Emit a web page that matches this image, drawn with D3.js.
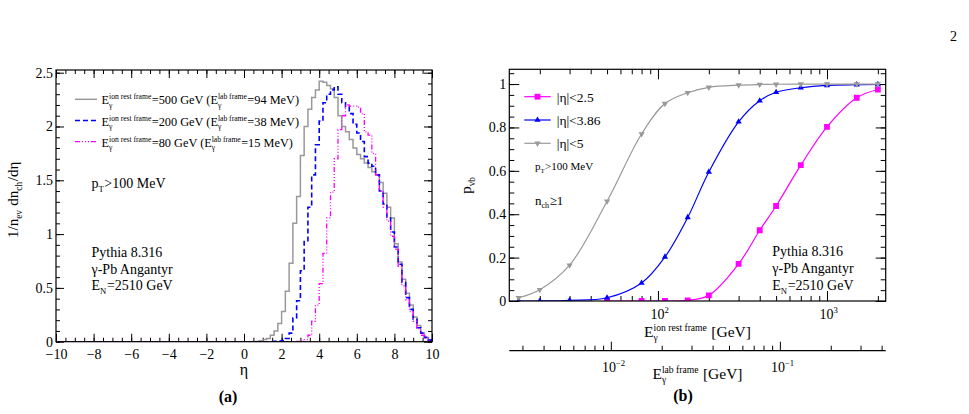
<!DOCTYPE html>
<html>
<head>
<meta charset="utf-8">
<script src="https://cdn.jsdelivr.net/npm/d3@7"></script>
<style>
body { margin: 0; background: #fff; }
svg text { font-family: "Liberation Serif", "Times New Roman", serif; fill: #000; white-space: pre; }
</style>
</head>
<body>
<div id="chart"></div>
<script>
// ---- panel (a): 1/nev dnch/deta, bins of 0.2 from eta = 0 to 10 (eta < 0 is empty)
var etaMin = -10, etaMax = 10, binStart = 0, binWidth = 0.2;
var hist500 = [0, 0, 0, 0.003, 0.008,
    0.02, 0.03, 0.06, 0.10, 0.17,
    0.28, 0.47, 0.73, 1.10, 1.35,
    1.73, 2.00, 2.16, 2.27, 2.34,
    2.42, 2.41, 2.38, 2.35, 2.27,
    2.10, 2.00, 1.95, 1.88, 1.80,
    1.74, 1.70, 1.66, 1.62, 1.58,
    1.55, 1.48, 1.38, 1.25, 1.15,
    0.91, 0.74, 0.58, 0.45, 0.34,
    0.23, 0.15, 0.08, 0.04, 0.015];
var hist200 = [0, 0, 0, 0, 0,
    0, 0, 0, 0.003, 0.006,
    0.01, 0.03, 0.08, 0.22, 0.38,
    0.66, 0.93, 1.25, 1.55, 1.83,
    2.05, 2.22, 2.30, 2.34, 2.37,
    2.30, 2.22, 2.18, 2.12, 2.02,
    1.94, 1.86, 1.72, 1.66, 1.63,
    1.55, 1.40, 1.28, 1.15, 1.02,
    0.88, 0.72, 0.55, 0.41, 0.30,
    0.21, 0.13, 0.08, 0.04, 0.015];
var hist80 = [0, 0, 0, 0, 0,
    0, 0, 0, 0, 0,
    0, 0, 0, 0, 0.002,
    0.005, 0.02, 0.06, 0.19, 0.34,
    0.54, 0.82, 1.15, 1.39, 1.70,
    1.97, 2.10, 2.20, 2.19, 2.19,
    2.18, 2.12, 1.95, 1.92, 1.75,
    1.55, 1.40, 1.25, 1.12, 0.98,
    0.86, 0.70, 0.52, 0.39, 0.28,
    0.19, 0.12, 0.06, 0.03, 0.01];
var restEnergies = ["500", "200", "80"];
var labEnergies = ["94", "38", "15"];
var etaTicks = [-10, -8, -6, -4, -2, 0, 2, 4, 6, 8, 10];
var dndetaTicks = [0, 0.5, 1, 1.5, 2, 2.5];

// ---- panel (b): veto probability vs photon energy
var energies = [15, 20, 30, 50, 80, 110, 150, 200, 300, 400, 500, 700, 1000, 1500, 2000];
var pEta5 = [0.015, 0.052, 0.165, 0.46, 0.77, 0.91, 0.96, 0.985, 0.995, 0.998, 0.999, 1, 1, 1, 1];
var pEta386 = [0, 0, 0.003, 0.015, 0.083, 0.203, 0.385, 0.595, 0.826, 0.923, 0.962, 0.983, 0.994, 0.997, 0.998];
var energiesEta25 = [50, 80, 110, 150, 200, 300, 400, 500, 700, 1000, 1500, 2000];
var pEta25 = [0, 0, 0, 0.003, 0.026, 0.171, 0.326, 0.438, 0.626, 0.803, 0.937, 0.975];
var etaCuts = ["|η|<2.5", "|η|<3.86", "|η|<5"];
var pvbTicks = [0, 0.2, 0.4, 0.6, 0.8, 1];
var labPerRest = 1.9e-4;   // E_lab / E_ion-rest

var svg = d3.select("#chart").append("svg")
    .attr("width", 969)
    .attr("height", 414);

var serif = "'Liberation Serif', 'Times New Roman', serif";

// text with stacked sub/superscripts, ROOT style
function richText(parent, x, y, segs, fs, anchor, rotate, weight) {
    var g = parent.append("g");
    var cx = 0;
    segs.forEach(function(s) {
        if (typeof s === "string") {
            var t = g.append("text").attr("x", cx).attr("font-size", fs).text(s);
            if (weight) t.attr("font-weight", weight);
            cx += t.node().getComputedTextLength();
        } else {
            var w = 0, sfs = fs * 0.62;
            if (s.sup != null) {
                var a = g.append("text").attr("x", cx).attr("y", -fs * 0.4).attr("font-size", sfs).text(s.sup);
                w = Math.max(w, a.node().getComputedTextLength());
            }
            if (s.sub != null) {
                var b = g.append("text").attr("x", cx).attr("y", fs * 0.27).attr("font-size", sfs).text(s.sub);
                w = Math.max(w, b.node().getComputedTextLength());
            }
            cx += w + fs * 0.04;
        }
    });
    var shift = anchor === "middle" ? -cx / 2 : anchor === "end" ? -cx : 0;
    g.attr("transform", "translate(" + x + "," + y + ")" + (rotate ? " rotate(" + rotate + ")" : "") + " translate(" + shift + ",0)");
    return g;
}

// page number
svg.append("text").attr("x", 950).attr("y", 41).attr("font-size", 14).text("2");

// ================= PANEL (a) =================
var A = { left: 56, top: 70, width: 376, height: 271.7 };
var gA = svg.append("g").attr("transform", `translate(${A.left}, ${A.top})`);

var xA = d3.scaleLinear().domain([etaMin, etaMax]).range([0, A.width]);
var yA = d3.scaleLinear().domain([0, 2.525]).range([A.height, 0]);

var etaMinor = d3.range(etaMin, etaMax + 0.01, 0.5);
var yMinorA = d3.range(0, 2.51, 0.1);

function styleAxis(sel) {
    sel.attr("font-family", null);
    sel.select(".domain").remove();
    sel.selectAll("line").attr("stroke", "#000").attr("stroke-width", 1);
    sel.selectAll("text").attr("font-size", 14).style("font-family", serif);
}

gA.append("g").attr("transform", `translate(0, ${A.height})`)
    .call(d3.axisBottom(xA).tickValues(etaMinor).tickSize(-4).tickFormat(""))
    .call(styleAxis);
gA.append("g").attr("transform", `translate(0, ${A.height})`)
    .call(d3.axisBottom(xA).tickValues(etaTicks).tickSize(-8).tickPadding(7).tickFormat(d3.format("d")))
    .call(styleAxis);
gA.append("g")
    .call(d3.axisTop(xA).tickValues(etaMinor).tickSize(-4).tickFormat(""))
    .call(styleAxis);
gA.append("g")
    .call(d3.axisTop(xA).tickValues(etaTicks).tickSize(-8).tickFormat(""))
    .call(styleAxis);
gA.append("g")
    .call(d3.axisLeft(yA).tickValues(yMinorA).tickSize(-4).tickFormat(""))
    .call(styleAxis);
gA.append("g")
    .call(d3.axisLeft(yA).tickValues(dndetaTicks).tickSize(-8).tickPadding(3).tickFormat(d => String(d)))
    .call(styleAxis);
gA.append("g").attr("transform", `translate(${A.width}, 0)`)
    .call(d3.axisRight(yA).tickValues(yMinorA).tickSize(-4).tickFormat(""))
    .call(styleAxis);
gA.append("g").attr("transform", `translate(${A.width}, 0)`)
    .call(d3.axisRight(yA).tickValues(dndetaTicks).tickSize(-8).tickFormat(""))
    .call(styleAxis);

gA.append("clipPath").attr("id", "clipA")
    .append("rect").attr("width", A.width).attr("height", A.height);

function histPoints(values) {
    var pts = [{ e: etaMin, v: 0 }];
    values.forEach(function(v, i) {
        pts.push({ e: binStart + i * binWidth, v: v });
    });
    pts.push({ e: binStart + values.length * binWidth, v: values[values.length - 1] });
    return pts;
}
var histLine = d3.line()
    .x(d => xA(d.e))
    .y(d => yA(d.v))
    .curve(d3.curveStepAfter);

var histStyles = [
    { data: hist500, color: "#999999", dash: null, width: 1.5 },
    { data: hist200, color: "#0000ff", dash: "5,3", width: 1.6 },
    { data: hist80, color: "#ff00ff", dash: "5,2,1,2,1,2,1,2", width: 1.3 }
];

var histGroup = gA.append("g").attr("clip-path", "url(#clipA)");
histStyles.forEach(function(h) {
    histGroup.append("path")
        .attr("d", histLine(histPoints(h.data)))
        .attr("fill", "none")
        .attr("stroke", h.color)
        .attr("stroke-width", h.width)
        .attr("stroke-dasharray", h.dash);
});

// frame
gA.append("rect").attr("width", A.width).attr("height", A.height)
    .attr("fill", "none").attr("stroke", "#000").attr("stroke-width", 1.2);

// legend (a)
histStyles.forEach(function(h, i) {
    var ly = 29.3 + i * 21.2;
    gA.append("line")
        .attr("x1", 19).attr("x2", 41).attr("y1", ly).attr("y2", ly)
        .attr("stroke", h.color).attr("stroke-width", h.width).attr("stroke-dasharray", h.dash);
    richText(gA, 45.5, ly + 5, ["E", { sup: "ion rest frame", sub: "γ" }, "=" + restEnergies[i] + " GeV (E",
        { sup: "lab frame", sub: "γ" }, "=" + labEnergies[i] + " MeV)"], 12.3);
});

richText(gA, 35.5, 118, ["p", { sub: "T" }, ">100 MeV"], 14);
richText(gA, 35.5, 187, ["Pythia 8.316"], 14);
richText(gA, 35.5, 203.5, ["γ-Pb Angantyr"], 14);
richText(gA, 35.5, 220, ["E", { sub: "N" }, "=2510 GeV"], 14);

// axis titles (a)
richText(svg, 244, 375, ["η"], 16, "middle");
richText(svg, 18, A.top + A.height / 2 - 6, ["1/n", { sub: "ev" }, " dn", { sub: "ch" }, "/dη"], 15, "middle", -90);
richText(svg, 228, 402, ["(a)"], 16, "middle", null, "bold");

// ================= PANEL (b) =================
var B = { left: 509.3, top: 69.3, width: 376.4, height: 231.7 };
var gB = svg.append("g").attr("transform", `translate(${B.left}, ${B.top})`);

var xB = d3.scaleLog().domain([13.2, 2225]).range([0, B.width]);
var yB = d3.scaleLinear().domain([0, 1.068]).range([B.height, 0]);
var xLab = d3.scaleLog().domain([13.2 * labPerRest, 2225 * labPerRest]).range([0, B.width]);

function logTicks(scale) {
    var dom = scale.domain(), major = [], minor = [];
    var lo = Math.floor(Math.log10(dom[0])), hi = Math.ceil(Math.log10(dom[1]));
    for (var p = lo; p <= hi; p++) {
        for (var m = 1; m < 10; m++) {
            var v = m * Math.pow(10, p);
            if (v < dom[0] * 0.999 || v > dom[1] * 1.001) continue;
            if (m === 1) major.push(v); else minor.push(v);
        }
    }
    return { major: major, minor: minor };
}
var tB = logTicks(xB);
var yMinorB = d3.range(0, 1.051, 0.05);

gB.append("g").attr("transform", `translate(0, ${B.height})`)
    .call(d3.axisBottom(xB).tickValues(tB.minor).tickSize(-5).tickFormat(""))
    .call(styleAxis);
gB.append("g").attr("transform", `translate(0, ${B.height})`)
    .call(d3.axisBottom(xB).tickValues(tB.major).tickSize(-10).tickFormat(""))
    .call(styleAxis);
gB.append("g")
    .call(d3.axisTop(xB).tickValues(tB.minor).tickSize(-5).tickFormat(""))
    .call(styleAxis);
gB.append("g")
    .call(d3.axisTop(xB).tickValues(tB.major).tickSize(-10).tickFormat(""))
    .call(styleAxis);
gB.append("g")
    .call(d3.axisLeft(yB).tickValues(yMinorB).tickSize(-5).tickFormat(""))
    .call(styleAxis);
gB.append("g")
    .call(d3.axisLeft(yB).tickValues(pvbTicks).tickSize(-10).tickPadding(3).tickFormat(d => String(d)))
    .call(styleAxis);
gB.append("g").attr("transform", `translate(${B.width}, 0)`)
    .call(d3.axisRight(yB).tickValues(yMinorB).tickSize(-5).tickFormat(""))
    .call(styleAxis);
gB.append("g").attr("transform", `translate(${B.width}, 0)`)
    .call(d3.axisRight(yB).tickValues(pvbTicks).tickSize(-10).tickFormat(""))
    .call(styleAxis);

tB.major.forEach(function(v) {
    richText(gB, xB(v) + 2, B.height + 17.5, ["10", { sup: String(Math.round(Math.log10(v))) }], 14, "middle");
});

gB.append("clipPath").attr("id", "clipB")
    .append("rect").attr("width", B.width).attr("height", B.height);

var curve = d3.line()
    .x(d => xB(d.e))
    .y(d => yB(d.p))
    .curve(d3.curveCatmullRom.alpha(0.5));

var seriesB = [
    { e: energiesEta25, p: pEta25, color: "#ff00ff", symbol: d3.symbolSquare, size: 34, rot: 0 },
    { e: energies, p: pEta386, color: "#0000ff", symbol: d3.symbolTriangle, size: 17, rot: 0 },
    { e: energies, p: pEta5, color: "#999999", symbol: d3.symbolTriangle, size: 17, rot: 180 }
];

var curveGroup = gB.append("g").attr("clip-path", "url(#clipB)");
seriesB.forEach(function(s) {
    var pts = s.e.map((e, i) => ({ e: e, p: s.p[i] }));
    curveGroup.append("path")
        .attr("d", curve(pts))
        .attr("fill", "none")
        .attr("stroke", s.color)
        .attr("stroke-width", 1.2);
    curveGroup.selectAll(null)
        .data(pts)
        .enter()
        .append("path")
        .attr("d", d3.symbol(s.symbol, s.size))
        .attr("transform", d => `translate(${xB(d.e)}, ${yB(d.p)}) rotate(${s.rot})`)
        .attr("fill", s.color);
});

gB.append("rect").attr("width", B.width).attr("height", B.height)
    .attr("fill", "none").attr("stroke", "#000").attr("stroke-width", 1.2);

// legend (b)
seriesB.forEach(function(s, i) {
    var ly = 27.4 + i * 23.3;
    gB.append("line")
        .attr("x1", 15).attr("x2", 41.4).attr("y1", ly).attr("y2", ly)
        .attr("stroke", s.color).attr("stroke-width", 1.2);
    gB.append("path")
        .attr("d", d3.symbol(s.symbol, s.size))
        .attr("transform", `translate(28.2, ${ly}) rotate(${s.rot})`)
        .attr("fill", s.color);
    richText(gB, 47.4, ly + 5, [etaCuts[i]], 13.5);
});
richText(gB, 25.7, 101, ["p", { sub: "T" }, ">100 MeV"], 11);
richText(gB, 25.7, 135.5, ["n", { sub: "ch" }, "≥1"], 13);
richText(gB, 263, 187, ["Pythia 8.316"], 14);
richText(gB, 263, 203.5, ["γ-Pb Angantyr"], 14);
richText(gB, 263, 220.5, ["E", { sub: "N" }, "=2510 GeV"], 14);

richText(svg, 471, B.top + B.height / 2, ["p", { sub: "vb" }], 15, "middle", -90);
richText(svg, B.left + B.width / 2, 337, ["E", { sup: "ion rest frame", sub: "γ" }, " [GeV]"], 15.5, "middle");

// second (lab frame) axis
var labY = 350.7;
var gLab = svg.append("g").attr("transform", `translate(${B.left}, ${labY})`);
var tLab = logTicks(xLab);
gLab.append("line").attr("x1", 0).attr("x2", B.width).attr("stroke", "#000").attr("stroke-width", 1.2);
gLab.append("g")
    .call(d3.axisTop(xLab).tickValues(tLab.minor).tickSize(5).tickFormat(""))
    .call(styleAxis);
gLab.append("g")
    .call(d3.axisTop(xLab).tickValues(tLab.major).tickSize(9).tickFormat(""))
    .call(styleAxis);
tLab.major.forEach(function(v) {
    richText(gLab, xLab(v) + 3, 21, ["10", { sup: "−" + Math.round(-Math.log10(v)) }], 14, "middle");
});
richText(svg, B.left + B.width / 2, 379, ["E", { sup: "lab frame", sub: "γ" }, " [GeV]"], 15.5, "middle");
richText(svg, 683, 401, ["(b)"], 16, "middle", null, "bold");
</script>
</body>
</html>
